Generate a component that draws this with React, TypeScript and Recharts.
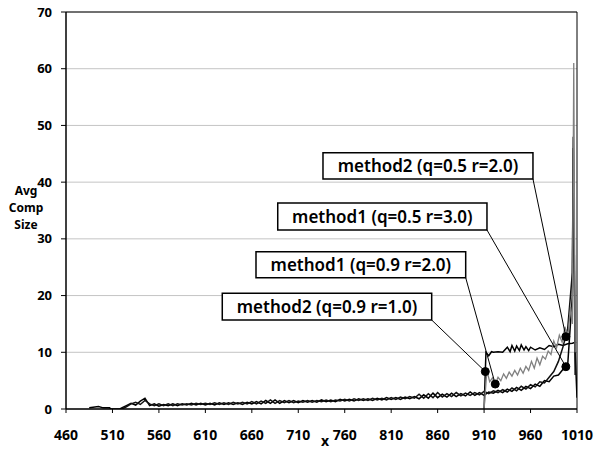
import React from 'react';
import {
  LineChart,
  Line,
  XAxis,
  YAxis,
  CartesianGrid,
  ReferenceArea,
  ReferenceLine,
  ReferenceDot,
} from 'recharts';

const FONT = '"Noto Sans", "DejaVu Sans", sans-serif';

const xTicks = [460, 510, 560, 610, 660, 710, 760, 810, 860, 910, 960, 1010];
const yTicks = [0, 10, 20, 30, 40, 50, 60, 70];

// sampling positions shared by the two long curves (520 .. 1005, every 5)
const baseX = Array.from({ length: 98 }, (_, i) => 520 + i * 5);

// method1 (q=0.5 r=3.0)
const m1q05Head = [
  { x: 485, y: 0.2 },
  { x: 495, y: 0.45 },
  { x: 500, y: 0.2 },
  { x: 507, y: 0.2 },
  { x: 508, y: 0 },
  { x: 518, y: 0 },
];
const m1q05Values = [
  0.2, 0.6, 1.0, 0.7, 1.4, 1.9, 0.6, 0.9, 0.5, 0.8,
  0.6, 0.9, 0.6, 0.9, 0.7, 1.0, 0.7, 1.0, 0.7, 1.0,
  0.7, 1.1, 0.8, 1.1, 0.8, 1.1, 0.8, 1.2, 0.9, 1.3,
  0.9, 1.5, 1.0, 1.6, 1.0, 1.5, 1.1, 1.5, 1.1, 1.5,
  1.2, 1.5, 1.2, 1.6, 1.3, 1.6, 1.3, 1.7, 1.4, 1.7,
  1.4, 1.8, 1.5, 1.8, 1.5, 1.9, 1.6, 2.0, 1.7, 2.0,
  1.7, 2.1, 1.8, 2.2, 1.8, 2.5, 1.9, 2.8, 2.0, 2.6,
  2.1, 2.8, 2.2, 2.7, 2.3, 3.0, 2.4, 2.9, 2.4, 3.0,
  2.8, 3.3, 2.9, 3.5, 3.1, 3.8, 3.3, 4.0, 3.6, 4.4,
  4.0, 5.0, 4.8, 5.8, 6.0, 7.0, 7.8, 20.0,
];
const m1q05Tail = [
  { x: 1006, y: 48 },
  { x: 1008, y: 10 },
  { x: 1010, y: 2 },
];

// method2 (q=0.5 r=2.0)
const m2q05Values = [
  0.0, 0.4, 0.9, 1.2, 0.8, 1.5, 0.9, 0.6, 0.9, 0.6,
  0.9, 0.6, 0.9, 0.7, 0.9, 0.7, 1.0, 0.8, 1.0, 0.8,
  1.1, 0.8, 1.1, 0.8, 1.2, 0.9, 1.2, 0.9, 1.3, 0.9,
  1.4, 1.0, 1.6, 1.0, 1.5, 1.1, 1.5, 1.1, 1.4, 1.2,
  1.5, 1.2, 1.5, 1.3, 1.6, 1.3, 1.6, 1.4, 1.7, 1.4,
  1.8, 1.5, 1.8, 1.5, 1.9, 1.6, 1.9, 1.6, 2.0, 1.7,
  2.1, 1.8, 2.2, 1.9, 2.6, 1.9, 2.7, 2.0, 2.9, 2.1,
  2.7, 2.2, 2.9, 2.3, 2.8, 2.4, 2.9, 2.5, 3.1, 2.7,
  3.2, 2.9, 3.4, 3.0, 3.7, 3.2, 4.0, 3.5, 4.3, 3.9,
  4.8, 4.6, 5.6, 6.6, 8.4, 11.0, 14.2, 24.0,
];
const m2q05Tail = [
  { x: 1006, y: 46 },
  { x: 1008, y: 6 },
];

// method2 (q=0.9 r=1.0)
const m2q09X = [
  910, 912, 915, 918, 920, 925, 930, 935, 938, 940,
  943, 945, 948, 950, 953, 955, 958, 960, 965, 970,
  975, 980, 985, 990, 995, 1000, 1005, 1009,
];
const m2q09Values = [
  0, 10.0, 9.4, 10.1, 10.0, 10.1, 10.0, 10.9, 10.1, 11.2,
  10.2, 11.1, 10.3, 11.3, 10.4, 11.0, 10.3, 10.9, 10.4, 10.8,
  10.5, 11.2, 11.0, 11.4, 11.2, 11.5, 11.6, 11.8,
];

// method1 (q=0.9 r=2.0)
const m1q09X = [
  910, 913, 916, 919, 922, 925, 928, 931, 934, 937,
  940, 943, 946, 949, 952, 955, 958, 961, 964, 967,
  970, 973, 976, 979, 982, 985, 988, 991, 994, 997,
  1000, 1003, 1005, 1006.5, 1008,
];
const m1q09Values = [
  0, 6.8, 4.8, 5.5, 4.4, 5.6, 5.0, 6.2, 5.4, 6.5,
  5.8, 6.8, 6.0, 7.2, 6.3, 7.5, 6.8, 8.4, 7.2, 9.0,
  7.8, 9.3, 8.8, 10.2, 9.6, 12.0, 10.8, 13.0, 11.8, 14.5,
  12.5, 18.0, 15.0, 61.0, 10.0,
];

const zip = (xs: number[], ys: number[]) => xs.map((x, i) => ({ x, y: ys[i] }));

const seriesM1q05 = [...m1q05Head, ...zip(baseX, m1q05Values), ...m1q05Tail];
const seriesM2q05 = [...zip(baseX, m2q05Values), ...m2q05Tail];
const seriesM2q09 = zip(m2q09X, m2q09Values);
const seriesM1q09 = zip(m1q09X, m1q09Values);

// callouts: box in data coords, and the point each leader line hits
const callouts = [
  { text: 'method2 (q=0.5 r=2.0)', x1: 736.6, x2: 962.6, y1: 40.56, y2: 45.19, px: 998, py: 12.75 },
  { text: 'method1 (q=0.5 r=3.0)', x1: 687.9, x2: 913.1, y1: 31.56, y2: 36.33, px: 998, py: 7.46 },
  { text: 'method1 (q=0.9 r=2.0)', x1: 664.5, x2: 890.2, y1: 23.15, y2: 27.74, px: 922, py: 4.4 },
  { text: 'method2 (q=0.9 r=1.0)', x1: 628.2, x2: 853.6, y1: 15.69, y2: 20.4, px: 911.3, py: 6.6 },
];

const tickStyle = { fill: '#000', fontFamily: FONT, fontWeight: 700 };

export default function App() {
  return (
    <div style={{ position: 'absolute', left: 0, top: 0, width: 594, height: 451, background: '#fff' }}>
      <LineChart width={594} height={451} margin={{ top: 12, right: 17, bottom: 0, left: 0 }}>
        <CartesianGrid horizontal vertical={false} stroke="#c4c4c4" />
        <XAxis
          type="number"
          dataKey="x"
          domain={[460, 1010]}
          ticks={xTicks}
          interval={0}
          allowDataOverflow
          height={42}
          tickSize={4}
          tickMargin={17}
          tick={{ ...tickStyle, fontSize: 14 }}
          axisLine={{ stroke: '#000', strokeWidth: 1.5 }}
          tickLine={{ stroke: '#000' }}
          label={{
            content: () => (
              <text x={325} y={446} textAnchor="middle" fontFamily={FONT} fontWeight={700} fontSize={14} fill="#000">
                x
              </text>
            ),
          }}
        />
        <YAxis
          type="number"
          domain={[0, 70]}
          ticks={yTicks}
          interval={0}
          allowDataOverflow
          width={66}
          tickSize={5}
          tickMargin={9}
          tick={{ ...tickStyle, fontSize: 13 }}
          axisLine={{ stroke: '#000', strokeWidth: 1.5 }}
          tickLine={{ stroke: '#000' }}
          label={{
            content: () => (
              <text textAnchor="middle" fontFamily={FONT} fontWeight={700} fontSize={12} fill="#000">
                <tspan x={26} y={195}>Avg</tspan>
                <tspan x={26} y={212}>Comp</tspan>
                <tspan x={26} y={229}>Size</tspan>
              </text>
            ),
          }}
        />
        <ReferenceLine y={70} stroke="#000" strokeWidth={1} />
        <ReferenceLine x={1010} stroke="#000" strokeWidth={1} />

        <Line data={seriesM2q09} dataKey="y" stroke="#000" strokeWidth={1.5} dot={false} activeDot={false} isAnimationActive={false} />
        <Line data={seriesM1q05} dataKey="y" stroke="#000" strokeWidth={1.5} dot={false} activeDot={false} isAnimationActive={false} />
        <Line data={seriesM2q05} dataKey="y" stroke="#111" strokeWidth={1.5} dot={false} activeDot={false} isAnimationActive={false} />
        <Line data={seriesM1q09} dataKey="y" stroke="#808080" strokeWidth={1.3} dot={false} activeDot={false} isAnimationActive={false} />

        {callouts.map((c) => (
          <ReferenceLine
            key={`l-${c.text}`}
            segment={[{ x: c.x2, y: c.y1 }, { x: c.px, y: c.py }]}
            stroke="#000"
            strokeWidth={1}
          />
        ))}
        {callouts.map((c) => (
          <ReferenceArea
            key={`b-${c.text}`}
            x1={c.x1}
            x2={c.x2}
            y1={c.y1}
            y2={c.y2}
            fill="#fff"
            fillOpacity={1}
            stroke="#000"
            strokeWidth={1.5}
            label={{ value: c.text, position: 'center', fill: '#000', fontSize: 17, fontFamily: FONT, fontWeight: 600 }}
          />
        ))}
        {callouts.map((c) => (
          <ReferenceDot key={`d-${c.text}`} x={c.px} y={c.py} r={4} fill="#000" stroke="#000" />
        ))}
      </LineChart>
    </div>
  );
}
